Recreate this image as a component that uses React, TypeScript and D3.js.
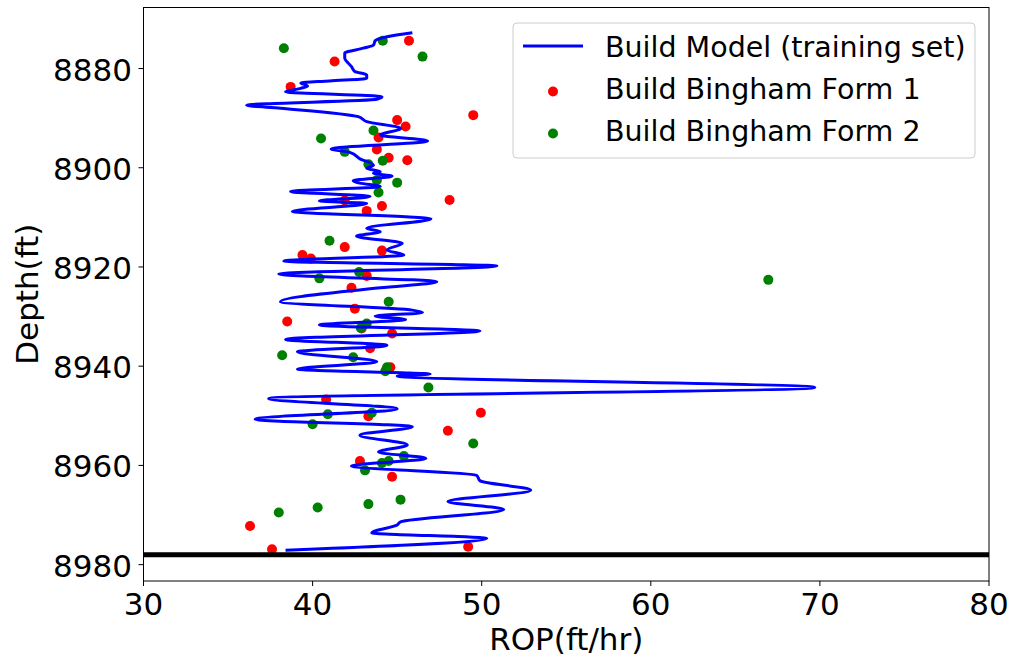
import React from "react";
import * as d3 from "d3";

// Build model trace (depth in ft, ROP in ft/hr)
const modelDepth = [
  8872.8, 8873.6, 8874.4, 8875.3, 8875.9, 8876.9, 8877.9, 8879.6, 8880.6, 8881.3,
  8882.0, 8882.5, 8882.9, 8883.5, 8884.0, 8884.7, 8885.7, 8886.2, 8887.4, 8888.0,
  8889.7, 8890.7, 8892.1, 8893.4, 8894.6, 8896.2, 8896.9, 8898.2, 8899.5, 8900.1,
  8900.8, 8901.1, 8901.7, 8902.6, 8903.1, 8903.8, 8904.8, 8905.8, 8906.7, 8907.2,
  8908.8, 8910.3, 8912.2, 8912.9, 8913.8, 8915.2, 8916.6, 8917.6, 8918.8, 8919.8,
  8921.4, 8923.0, 8924.2, 8927.0, 8928.7, 8929.2, 8929.9, 8930.6, 8931.7, 8932.9,
  8934.6, 8935.8, 8937.1, 8939.1, 8940.6, 8941.6, 8942.0, 8944.3, 8946.5, 8948.6,
  8950.7, 8952.2, 8953.9, 8955.9, 8957.3, 8958.6, 8960.1, 8962.0, 8963.1, 8965.0,
  8967.3, 8968.9, 8971.4, 8972.0, 8973.6, 8974.7, 8977.1,
];
const modelRop = [
  45.9, 44.4, 43.7, 43.6, 43.0, 41.9, 41.9, 42.3, 42.5, 43.2,
  43.2, 41.0, 39.3, 39.7, 39.3, 38.4, 44.1, 43.8, 36.1, 38.1,
  42.7, 43.2, 45.2, 44.0, 46.8, 41.1, 42.2, 42.8, 43.6, 43.2,
  44.0, 43.6, 44.7, 42.4, 42.8, 44.0, 38.7, 43.4, 40.4, 43.2,
  38.8, 47.0, 43.2, 44.0, 42.6, 45.3, 44.4, 45.4, 38.3, 50.9,
  38.0, 47.35, 44.0, 38.1, 45.9, 46.5, 43.7, 45.5, 40.4, 49.9,
  38.4, 44.4, 39.1, 43.8, 39.1, 46.95, 45.0, 69.7, 37.4, 45.0,
  36.6, 45.9, 42.8, 45.6, 43.9, 46.7, 42.3, 49.7, 49.9, 52.9,
  48.0, 51.3, 45.2, 45.0, 43.5, 50.3, 38.4,
];

// Bingham form 1 points
const form1Depth = [
  8874.4, 8878.6, 8883.7, 8889.4, 8890.4, 8891.7, 8893.9, 8896.3, 8898.0, 8898.5,
  8906.5, 8906.6, 8907.7, 8908.7, 8916.0, 8917.6, 8918.3, 8916.7, 8921.8, 8924.2,
  8928.4, 8931.0, 8932.4, 8933.4, 8936.4, 8940.2, 8946.7, 8949.4, 8950.1, 8953.0,
  8959.1, 8962.3, 8972.2, 8976.9, 8976.4,
];
const form1Rop = [
  45.7, 41.3, 38.7, 49.5, 45.0, 45.5, 43.9, 43.8, 44.5, 45.6,
  48.1, 41.9, 44.1, 43.2, 41.9, 39.4, 39.9, 44.1, 43.2, 42.3,
  42.5, 38.5, 42.9, 44.7, 43.4, 44.6, 40.8, 49.95, 43.3, 48.0,
  42.8, 44.7, 36.3, 37.6, 49.2,
];

// Bingham form 2 points
const form2Depth = [
  8875.9, 8874.4, 8877.6, 8892.5, 8894.1, 8896.8, 8898.6, 8899.3, 8902.5, 8903.0,
  8905.0, 8914.7, 8921.0, 8922.3, 8922.6, 8927.0, 8931.4, 8932.3, 8937.8, 8938.2,
  8940.2, 8941.0, 8944.3, 8949.4, 8949.7, 8951.7, 8955.6, 8958.1, 8959.1, 8959.5,
  8961.0, 8966.9, 8967.8, 8968.5, 8969.5,
];
const form2Rop = [
  38.3, 44.15, 46.5, 43.6, 40.5, 41.9, 44.15, 43.3, 43.8, 45.0,
  43.9, 41.0, 42.75, 40.4, 66.95, 44.5, 43.2, 42.85, 38.2, 42.4,
  44.4, 44.3, 46.85, 43.5, 40.9, 40.0, 49.5, 45.4, 44.5, 44.1,
  43.1, 45.2, 43.3, 40.3, 38.0,
];

const xTicks = [30, 40, 50, 60, 70, 80];
const yTicks = [8880, 8900, 8920, 8940, 8960, 8980];
const markerDepth = 8978;

const legendLabels = [
  "Build Model (training set)",
  "Build Bingham Form 1",
  "Build Bingham Form 2",
];

const FONT = "DejaVu Sans, sans-serif";

export default function App() {
  const W = 1011;
  const H = 660;
  const left = 143.5;
  const right = 989;
  const top = 7.5;
  const bottom = 581;

  const x = d3.scaleLinear().domain([30, 80]).range([left, right]);
  const y = d3.scaleLinear().domain([8867.7, 8983.3]).range([top, bottom]);

  const modelPts: [number, number][] = modelDepth.map((d, i) => [modelRop[i], d]);
  const line = d3
    .line<[number, number]>()
    .x((p) => x(p[0]))
    .y((p) => y(p[1]))
    .curve(d3.curveMonotoneY);

  const lgX = 513;
  const lgY = 23;

  return (
    <svg
      width={W}
      height={H}
      style={{ position: "absolute", left: 0, top: 0, background: "#fff" }}
      fontFamily={FONT}
    >
      <defs>
        <clipPath id="plotArea">
          <rect x={left} y={top} width={right - left} height={bottom - top} />
        </clipPath>
      </defs>

      <g clipPath="url(#plotArea)">
        {form1Depth.map((d, i) => (
          <circle key={"r" + i} cx={x(form1Rop[i])} cy={y(d)} r={5} fill="#ff0000" />
        ))}
        {form2Depth.map((d, i) => (
          <circle key={"g" + i} cx={x(form2Rop[i])} cy={y(d)} r={5} fill="#008000" />
        ))}
        <path
          d={line(modelPts) || ""}
          fill="none"
          stroke="#0000ff"
          strokeWidth={3}
          strokeLinejoin="round"
        />
        <line
          x1={left}
          x2={right}
          y1={y(markerDepth)}
          y2={y(markerDepth)}
          stroke="#000"
          strokeWidth={5}
        />
      </g>

      {/* frame */}
      <rect
        x={left}
        y={top}
        width={right - left}
        height={bottom - top}
        fill="none"
        stroke="#000"
        strokeWidth={1}
      />

      {/* x axis */}
      {xTicks.map((t) => (
        <g key={"xt" + t}>
          <line x1={x(t)} x2={x(t)} y1={bottom} y2={bottom + 5} stroke="#000" strokeWidth={1} />
          <text x={x(t)} y={615} textAnchor="middle" fontSize={31} fill="#000">
            {t}
          </text>
        </g>
      ))}
      <text x={(left + right) / 2} y={650} textAnchor="middle" fontSize={31} fill="#000">
        ROP(ft/hr)
      </text>

      {/* y axis */}
      {yTicks.map((t) => (
        <g key={"yt" + t}>
          <line x1={left - 5} x2={left} y1={y(t)} y2={y(t)} stroke="#000" strokeWidth={1} />
          <text x={132} y={y(t) + 12} textAnchor="end" fontSize={31} fill="#000">
            {t}
          </text>
        </g>
      ))}
      <text
        transform={`translate(38, ${(top + bottom) / 2}) rotate(-90)`}
        textAnchor="middle"
        fontSize={31}
        fill="#000"
      >
        Depth(ft)
      </text>

      {/* legend */}
      <g>
        <rect
          x={lgX}
          y={lgY}
          width={462}
          height={135}
          rx={4}
          fill="#fff"
          fillOpacity={0.8}
          stroke="#cccccc"
          strokeWidth={1}
        />
        <line x1={523} x2={583} y1={46} y2={46} stroke="#0000ff" strokeWidth={3} />
        <circle cx={553} cy={91.5} r={5} fill="#ff0000" />
        <circle cx={553} cy={133.5} r={5} fill="#008000" />
        {legendLabels.map((s, i) => (
          <text key={s} x={605} y={56.5 + i * 42} fontSize={28.5} fill="#000">
            {s}
          </text>
        ))}
      </g>
    </svg>
  );
}
